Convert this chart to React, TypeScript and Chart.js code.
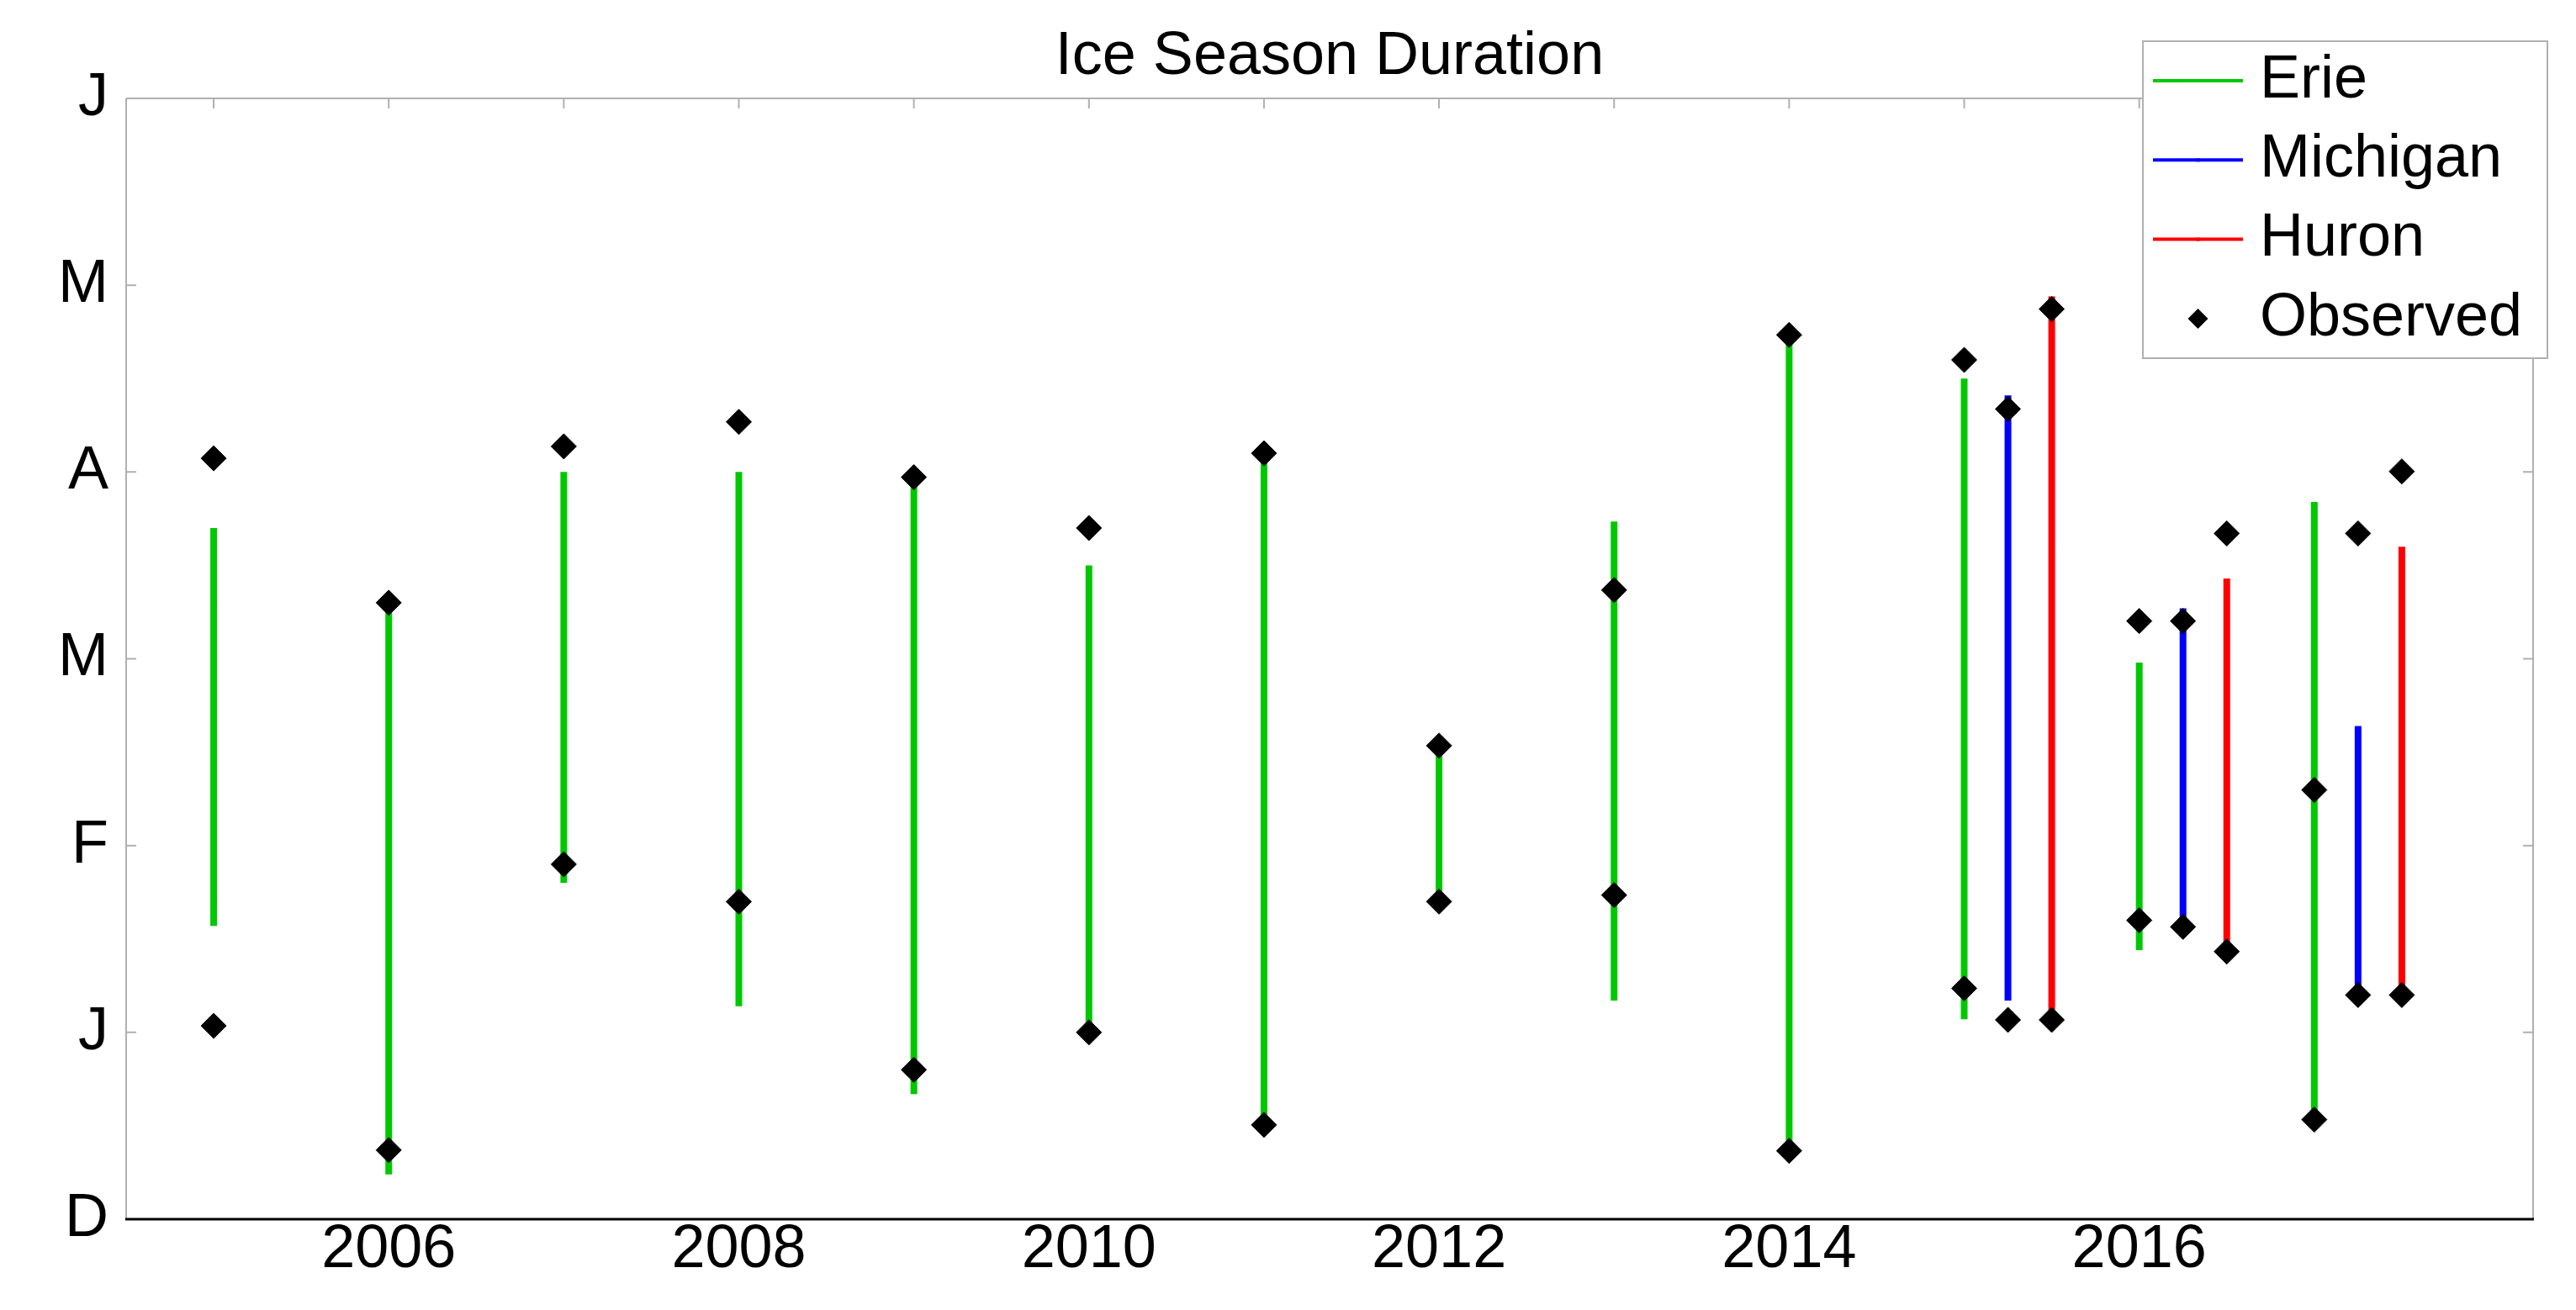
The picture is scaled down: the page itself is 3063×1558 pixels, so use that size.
import React, { useEffect, useRef } from 'react';
import { Chart, registerables } from 'chart.js';

Chart.register(...registerables);

// ---- Data (months since Dec 1: D=0, J=1, F=2, M=3, A=4, M=5, J=6) ----
const chartTitle = 'Ice Season Duration';
const monthLabels = ['D', 'J', 'F', 'M', 'A', 'M', 'J'];
const xTickYears = [2005, 2006, 2007, 2008, 2009, 2010, 2011, 2012, 2013, 2014, 2015, 2016, 2017, 2018];
const xLabelYears = [2006, 2008, 2010, 2012, 2014, 2016];
const legendLabels = ['Erie', 'Michigan', 'Huron', 'Observed'];

// Lake Erie: every winter
const erieYears = [2005, 2006, 2007, 2008, 2009, 2010, 2011, 2012, 2013, 2014, 2015, 2016, 2017];
const erieModelStart = [1.57, 0.24, 1.80, 1.14, 0.67, 1.02, 0.54, 1.72, 1.17, 0.40, 1.07, 1.44, 0.56];
const erieModelEnd = [3.70, 3.28, 4.00, 4.00, 3.93, 3.50, 4.06, 2.50, 3.735, 4.70, 4.50, 2.98, 3.84];
const erieObsStart = [1.035, 0.37, 1.90, 1.70, 0.80, 1.00, 0.505, 1.70, 1.735, 0.366, 1.236, 1.60, 0.533];
const erieObsEnd = [4.073, 3.30, 4.137, 4.268, 3.972, 3.70, 4.10, 2.535, 3.368, 4.734, 4.60, 3.202, 2.298];

// Lake Michigan: plotted a quarter-year after Erie
const michiganYears = [2015.25, 2016.25, 2017.25];
const michiganModelStart = [1.17, 1.60, 1.24];
const michiganModelEnd = [4.41, 3.27, 2.64];
const michiganObsStart = [1.067, 1.565, 1.20];
const michiganObsEnd = [4.337, 3.202, 3.671];

// Lake Huron: plotted half a year after Erie
const huronYears = [2015.5, 2016.5, 2017.5];
const huronModelStart = [1.12, 1.47, 1.24];
const huronModelEnd = [4.94, 3.43, 3.60];
const huronObsStart = [1.067, 1.433, 1.20];
const huronObsEnd = [4.872, 3.671, 4.003];

// ---- Styles ----
const FONT = "'Liberation Sans', Arial, Helvetica, sans-serif";
const erieColor = 'rgb(0,200,0)';
const michiganColor = 'rgb(0,0,255)';
const huronColor = 'rgb(255,0,0)';
const frameGray = '#b0b0b0';

function segments(xs: number[], starts: number[], ends: number[]) {
  const out: { x: number; y: number | null }[] = [];
  xs.forEach((x, i) => {
    out.push({ x, y: starts[i] });
    out.push({ x, y: ends[i] });
    out.push({ x, y: null });
  });
  return out;
}

function observed(xs: number[], starts: number[], ends: number[]) {
  const out: { x: number; y: number }[] = [];
  xs.forEach((x, i) => {
    out.push({ x, y: starts[i] });
    out.push({ x, y: ends[i] });
  });
  return out;
}

const framePlugin = {
  id: 'matlabFrame',
  beforeDatasetsDraw(chart: any) {
    const { ctx, chartArea } = chart;
    const { left, right, top, bottom } = chartArea;
    const xs = chart.scales.x;
    const ys = chart.scales.y;
    ctx.save();
    ctx.strokeStyle = frameGray;
    ctx.lineWidth = 2;
    ctx.beginPath();
    ctx.moveTo(left, top);
    ctx.lineTo(right, top);
    ctx.moveTo(left, top);
    ctx.lineTo(left, bottom);
    ctx.moveTo(right, top);
    ctx.lineTo(right, bottom);
    const tl = 12;
    xs.ticks.forEach((t: any) => {
      const px = xs.getPixelForValue(t.value);
      ctx.moveTo(px, top);
      ctx.lineTo(px, top + tl);
    });
    ys.ticks.forEach((t: any) => {
      const py = ys.getPixelForValue(t.value);
      ctx.moveTo(left, py);
      ctx.lineTo(left + tl, py);
      ctx.moveTo(right, py);
      ctx.lineTo(right - tl, py);
    });
    ctx.stroke();
    ctx.strokeStyle = '#000';
    ctx.lineWidth = 3;
    ctx.beginPath();
    ctx.moveTo(left - 1, bottom);
    ctx.lineTo(right + 1, bottom);
    ctx.stroke();
    ctx.restore();
  },
};

const legendPlugin = {
  id: 'matlabLegend',
  afterDraw(chart: any) {
    const { ctx, chartArea } = chart;
    const boxRight = chartArea.right + 17;
    const boxLeft = boxRight - 481;
    const boxTop = 49;
    const boxH = 377;
    ctx.save();
    ctx.fillStyle = '#fff';
    ctx.fillRect(boxLeft, boxTop, boxRight - boxLeft, boxH);
    ctx.strokeStyle = frameGray;
    ctx.lineWidth = 2;
    ctx.strokeRect(boxLeft, boxTop, boxRight - boxLeft, boxH);
    const colors = [erieColor, michiganColor, huronColor];
    const rowY0 = boxTop + 47;
    const rowStep = 94.3;
    const lineX0 = boxLeft + 12;
    const lineX1 = boxLeft + 119;
    const midX = (lineX0 + lineX1) / 2;
    legendLabels.forEach((label, i) => {
      const y = rowY0 + i * rowStep;
      if (i < 3) {
        ctx.strokeStyle = colors[i];
        ctx.lineWidth = 4;
        ctx.beginPath();
        ctx.moveTo(lineX0, y);
        ctx.lineTo(lineX1, y);
        ctx.stroke();
        ctx.fillStyle = colors[i];
        ctx.fillRect(midX - 2, y - 2, 4, 4);
      } else {
        const r = 12;
        ctx.fillStyle = '#000';
        ctx.beginPath();
        ctx.moveTo(midX - r, y);
        ctx.lineTo(midX, y - r);
        ctx.lineTo(midX + r, y);
        ctx.lineTo(midX, y + r);
        ctx.closePath();
        ctx.fill();
      }
      ctx.fillStyle = '#000';
      ctx.font = `72px ${FONT}`;
      ctx.textAlign = 'left';
      ctx.textBaseline = 'middle';
      ctx.fillText(label, boxLeft + 139, y);
    });
    ctx.restore();
  },
};

export default function App() {
  const canvasRef = useRef<HTMLCanvasElement | null>(null);

  useEffect(() => {
    const canvas = canvasRef.current;
    if (!canvas) return;
    const lineStyle = (color: string) => ({
      borderColor: color,
      backgroundColor: color,
      borderWidth: 8,
      borderCapStyle: 'butt' as const,
      pointRadius: 0,
      pointHoverRadius: 0,
      spanGaps: false,
      fill: false,
      order: 1,
    });
    const chart = new Chart(canvas, {
      type: 'line',
      data: {
        datasets: [
          { label: 'Erie', data: segments(erieYears, erieModelStart, erieModelEnd), ...lineStyle(erieColor) },
          { label: 'Michigan', data: segments(michiganYears, michiganModelStart, michiganModelEnd), ...lineStyle(michiganColor) },
          { label: 'Huron', data: segments(huronYears, huronModelStart, huronModelEnd), ...lineStyle(huronColor) },
          {
            label: 'Observed',
            data: [
              ...observed(erieYears, erieObsStart, erieObsEnd),
              ...observed(michiganYears, michiganObsStart, michiganObsEnd),
              ...observed(huronYears, huronObsStart, huronObsEnd),
            ],
            showLine: false,
            pointStyle: 'rectRot',
            pointRadius: 15,
            pointHoverRadius: 15,
            pointBackgroundColor: '#000',
            pointBorderColor: '#000',
            pointBorderWidth: 1,
            borderColor: '#000',
            backgroundColor: '#000',
            order: 0,
          },
        ] as any,
      },
      options: {
        animation: false,
        responsive: false,
        devicePixelRatio: 1,
        events: [],
        layout: { padding: { top: 0, left: 0, right: 51, bottom: 0 } },
        plugins: {
          legend: { display: false },
          tooltip: { enabled: false },
          title: {
            display: true,
            text: chartTitle,
            fullSize: false,
            color: '#000',
            font: { family: FONT, size: 72, weight: 'normal', lineHeight: 1.2 },
            padding: { top: 25, bottom: 5.6 },
          },
        },
        scales: {
          x: {
            type: 'linear',
            position: 'bottom',
            min: 2004.5,
            max: 2018.25,
            afterBuildTicks(scale: any) {
              scale.ticks = xTickYears.map((v) => ({ value: v }));
            },
            afterFit(scale: any) {
              scale.height = 108;
            },
            grid: { display: false, drawTicks: false },
            border: { display: false },
            ticks: {
              autoSkip: false,
              maxRotation: 0,
              minRotation: 0,
              color: '#000',
              padding: 1,
              font: { family: FONT, size: 72, lineHeight: 1 },
              callback: (v: any) => (xLabelYears.includes(Number(v)) ? String(v) : ''),
            },
          },
          y: {
            type: 'linear',
            position: 'left',
            min: 0,
            max: 6,
            afterFit(scale: any) {
              scale.width = 150;
            },
            grid: { display: false, drawTicks: false },
            border: { display: false },
            ticks: {
              stepSize: 1,
              autoSkip: false,
              color: '#000',
              padding: 21,
              font: { family: FONT, size: 72, lineHeight: 1 },
              callback: (v: any) => monthLabels[Number(v)] ?? '',
            },
          },
        },
      } as any,
      plugins: [framePlugin, legendPlugin],
    });
    return () => chart.destroy();
  }, []);

  return (
    <div style={{ position: 'fixed', left: 0, top: 0, width: 3063, height: 1558, background: '#fff' }}>
      <canvas ref={canvasRef} width={3063} height={1558} style={{ display: 'block', width: 3063, height: 1558 }} />
    </div>
  );
}
